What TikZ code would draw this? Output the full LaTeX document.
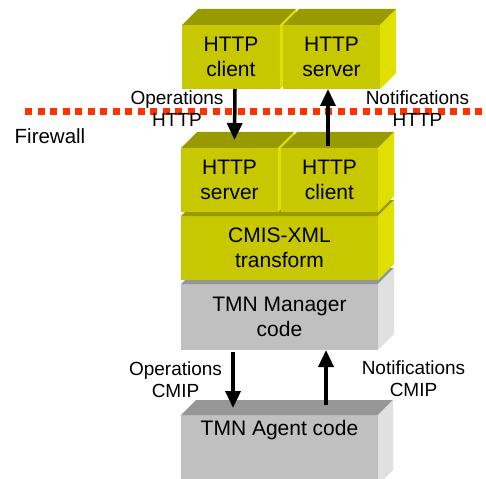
\documentclass[tikz,border=0pt]{standalone}
\usepackage{fontspec}
\setmainfont{Liberation Sans}
\usetikzlibrary{arrows.meta,calc}
\definecolor{yfront}{HTML}{C8C800}
\definecolor{ytop}{HTML}{999900}
\definecolor{yside}{HTML}{E0E000}
\definecolor{gfront}{HTML}{C0C0C0}
\definecolor{gtop}{HTML}{969696}
\definecolor{gside}{HTML}{E0E0E0}
\definecolor{fwred}{HTML}{FF3300}
\tikzset{
  face/.style={inner sep=0pt, outer sep=0pt, align=center, font=\fontsize{21}{25}\selectfont},
  ybox/.style={face, fill=yfront},
  gbox/.style={face, fill=gfront},
  arr/.style={line width=3.5pt, -{Triangle[length=17pt,width=15pt]}},
  lbl/.style={align=center, inner sep=0pt, font=\fontsize{19}{22}\selectfont},
}
\newcommand{\boxfaces}[4]{% node, depth, topcolor, sidecolor
  \fill[#3] (#1.north west) -- ++(#2,-#2) -- ($(#1.north east)+(#2,-#2)$) -- (#1.north east) -- cycle;
  \fill[#4] (#1.north east) -- ++(#2,-#2) -- ($(#1.south east)+(#2,-#2)$) -- (#1.south east) -- cycle;
}
\begin{document}
\begin{tikzpicture}[x=1pt,y=-1pt]
\useasboundingbox (0,0) rectangle (486,478);
% agent
\node[gbox, minimum width=197pt, minimum height=70pt] (ag) at (279.5,450) {};
\boxfaces{ag}{15}{gtop}{gside}
\node[lbl, font=\fontsize{21}{25}\selectfont] (agt) at (279.5,430) {TMN Agent code};
% manager
\node[gbox, minimum width=197pt, minimum height=66pt] (mg) at (279.5,317) {TMN Manager\\code};
\boxfaces{mg}{16}{gtop}{gside}
% CMIS-XML
\node[ybox, minimum width=197pt, minimum height=64pt] (cx) at (279.5,248) {CMIS-XML\\transform};
\boxfaces{cx}{16}{ytop}{yside}
% middle HTTP
\node[ybox, minimum width=97pt, minimum height=64pt] (ms) at (229.5,180) {HTTP\\server};
\boxfaces{ms}{16}{ytop}{yside}
\node[ybox, minimum width=97pt, minimum height=64pt] (mc) at (329.5,180) {HTTP\\client};
\boxfaces{mc}{16}{ytop}{yside}
% top HTTP
\node[ybox, minimum width=98pt, minimum height=64pt] (hc) at (231,57) {HTTP\\client};
\boxfaces{hc}{16}{ytop}{yside}
\node[ybox, minimum width=97pt, minimum height=64pt] (hs) at (331.5,57) {HTTP\\server};
\boxfaces{hs}{16}{ytop}{yside}
% firewall
\coordinate (fwl) at (25,112);
\coordinate (fwr) at (486,112);
\draw[fwred, line width=7pt, dash pattern=on 7pt off 5.5pt] (fwl) -- (fwr);
\node[lbl, font=\fontsize{20.5}{24}\selectfont] (fw) at (50,136) {Firewall};
% arrows
\draw[arr] ($(hc.south west)+(53,0)$) -- ($(ms.north west)+(53.5,-8)$);
\draw[arr] ($(mc.north west)+(47,-2)$) -- ($(hs.south west)+(45,0)$);
\draw[arr] ($(mg.south west)+(52,2)$) -- ($(ag.north west)+(52,-7)$);
\draw[arr] ($(ag.north west)+(145,-10)$) -- ($(mg.south west)+(145,0)$);
% labels
\node[lbl] (l1) at (177,109) {Operations\\HTTP};
\node[lbl] (l2) at (417.5,109) {Notifications\\HTTP};
\node[lbl] (l3) at (175.5,380) {Operations\\CMIP};
\node[lbl] (l4) at (413.5,379) {Notifications\\CMIP};
\end{tikzpicture}
\end{document}
